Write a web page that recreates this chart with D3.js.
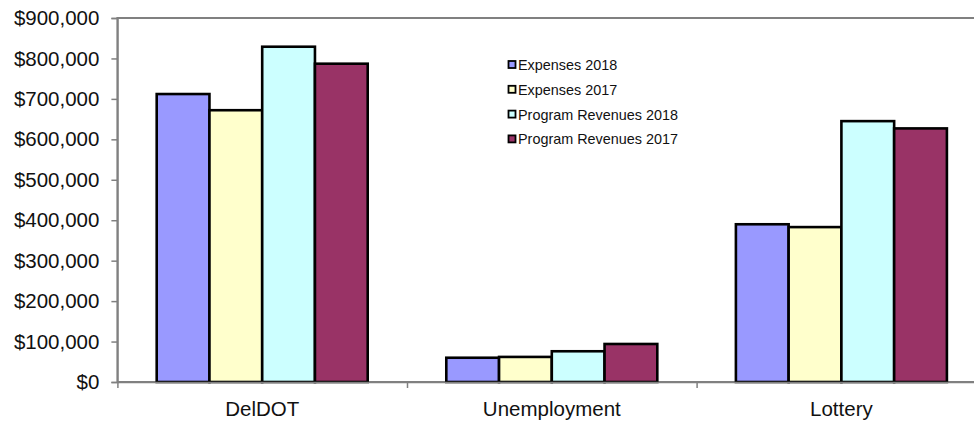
<!DOCTYPE html>
<html>
<head>
<meta charset="utf-8">
<script src="https://cdn.jsdelivr.net/npm/d3@7"></script>
<style>
  html, body { margin: 0; padding: 0; background: #fff; }
  svg { display: block; font-family: 'Liberation Sans', Arial, sans-serif; }
</style>
</head>
<body>
<div id="chart"></div>
<script>
const categories = ['DelDOT', 'Unemployment', 'Lottery']
const seriesNames = ['Expenses 2018', 'Expenses 2017', 'Program Revenues 2018', 'Program Revenues 2017']
const expenses2018 = [712000, 60000, 390000]
const expenses2017 = [672000, 62000, 383000]
const revenues2018 = [829000, 76000, 645000]
const revenues2017 = [787000, 94000, 627000]
const seriesColors = ['#9999ff', '#ffffcc', '#ccffff', '#993366']
const yTicks = [0, 100000, 200000, 300000, 400000, 500000, 600000, 700000, 800000, 900000]

const seriesValues = [expenses2018, expenses2017, revenues2018, revenues2017]

const width = 974
const height = 421
const plot = { left: 117.4, right: 986.2, top: 18, bottom: 382 }

const svg = d3.select('#chart')
  .append('svg')
  .attr('width', width)
  .attr('height', height)
  .style('overflow', 'hidden')

const x0 = d3.scaleBand()
  .domain(categories)
  .range([plot.left, plot.right])
  .padding(0)

const x1 = d3.scaleBand()
  .domain(seriesNames)
  .range([0, x0.bandwidth()])
  .paddingInner(0)
  .paddingOuter(0.745)

const y = d3.scaleLinear()
  .domain([0, 900000])
  .range([plot.bottom, plot.top])

// plot area border (top + left visible, right clipped)
svg.append('rect')
  .attr('x', plot.left)
  .attr('y', plot.top)
  .attr('width', plot.right - plot.left)
  .attr('height', plot.bottom - plot.top)
  .attr('fill', 'none')
  .attr('stroke', '#808080')
  .attr('stroke-width', 2)

// bars
const groups = svg.selectAll('g.cat')
  .data(categories)
  .enter()
  .append('g')
  .attr('class', 'cat')
  .attr('transform', d => `translate(${x0(d)},0)`)

groups.selectAll('rect')
  .data((d, i) => seriesNames.map((s, j) => ({ s, j, v: seriesValues[j][i] })))
  .enter()
  .append('rect')
  .attr('x', d => x1(d.s))
  .attr('y', d => y(d.v))
  .attr('width', x1.bandwidth())
  .attr('height', d => y(0) - y(d.v))
  .attr('fill', d => seriesColors[d.j])
  .attr('stroke', '#000')
  .attr('stroke-width', 2.6)

// y axis
const yAxis = svg.append('g')
  .attr('transform', `translate(${plot.left},0)`)
  .call(d3.axisLeft(y).tickValues(yTicks).tickFormat(d3.format('$,')).tickSize(6).tickPadding(12))
yAxis.select('.domain').attr('stroke', '#808080').attr('stroke-width', 1.5)
yAxis.selectAll('.tick line').attr('stroke', '#808080').attr('stroke-width', 1.5)
yAxis.selectAll('.tick text')
  .attr('font-size', 20.5)
  .attr('fill', '#111')
  .style('font-family', "'Liberation Sans', Arial, sans-serif")

// x axis ticks at category boundaries
const xb = d3.scaleLinear().domain([0, categories.length]).range([plot.left, plot.right])
const xTickAxis = svg.append('g')
  .attr('transform', `translate(0,${plot.bottom})`)
  .call(d3.axisBottom(xb).tickValues(d3.range(categories.length + 1)).tickFormat('').tickSize(6).tickSizeOuter(0))
xTickAxis.select('.domain').attr('stroke', '#808080').attr('stroke-width', 1.5)
xTickAxis.selectAll('.tick line').attr('stroke', '#808080').attr('stroke-width', 1.5)

// x category labels
const xLabelAxis = svg.append('g')
  .attr('transform', `translate(0,${plot.bottom})`)
  .call(d3.axisBottom(x0).tickSize(0).tickPadding(19))
xLabelAxis.select('.domain').remove()
xLabelAxis.selectAll('.tick text')
  .attr('font-size', 20.5)
  .attr('fill', '#111')
  .style('font-family', "'Liberation Sans', Arial, sans-serif")

// legend
const legend = svg.append('g')
  .attr('transform', 'translate(508,65)')
const rows = legend.selectAll('g')
  .data(seriesNames)
  .enter()
  .append('g')
  .attr('transform', (d, i) => `translate(0,${i * 24.8})`)
rows.append('rect')
  .attr('x', 0.5)
  .attr('y', -4)
  .attr('width', 7)
  .attr('height', 7)
  .attr('fill', (d, i) => seriesColors[i])
  .attr('stroke', '#000')
  .attr('stroke-width', 1.8)
rows.append('text')
  .attr('x', 10)
  .attr('dy', '0.35em')
  .attr('font-size', 14.4)
  .attr('fill', '#111')
  .text(d => d)
</script>
</body>
</html>
